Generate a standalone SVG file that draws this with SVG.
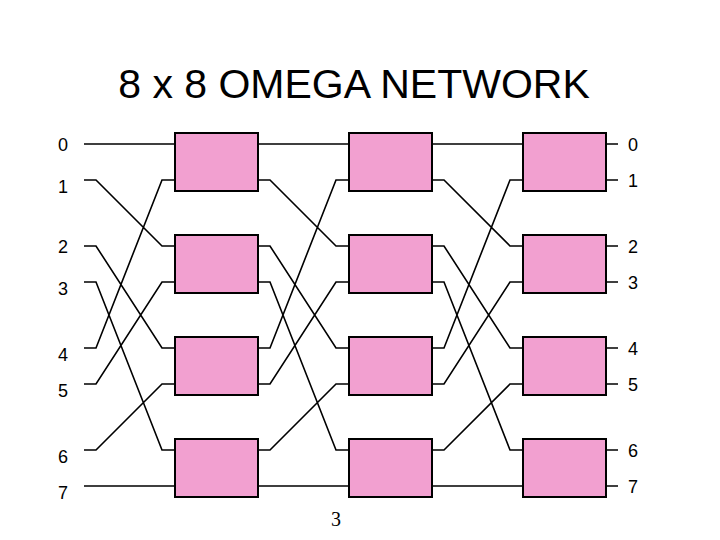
<svg xmlns="http://www.w3.org/2000/svg" width="720" height="540" viewBox="0 0 720 540">
<style>
.box{fill:#f2a0d0;stroke:#000;stroke-width:2}
.w{fill:none;stroke:#000;stroke-width:1.6}
.t{font-family:"Liberation Sans",Arial,sans-serif;font-size:18px}
</style>
<rect width="720" height="540" fill="#fff"/>
<text x="354" y="98" text-anchor="middle" font-family="Liberation Sans,Arial,sans-serif" font-size="41">8 x 8 OMEGA NETWORK</text>
<g id="connectors" class="w">
<path d="M84 144H175M84 180H96L162 246H175M84 246H96L162 348H175M84 282H96L162 450H175M84 348H96L162 180H175M84 384H96L162 282H175M84 450H96L162 384H175M84 486H175"/>
<path d="M258 144H349M258 180H270L336 246H349M258 246H270L336 348H349M258 282H270L336 450H349M258 348H270L336 180H349M258 384H270L336 282H349M258 450H270L336 384H349M258 486H349"/>
<path d="M432 144H523M432 180H444L510 246H523M432 246H444L510 348H523M432 282H444L510 450H523M432 348H444L510 180H523M432 384H444L510 282H523M432 450H444L510 384H523M432 486H523"/>
<path d="M606 144H618M606 180H618M606 246H618M606 282H618M606 348H618M606 384H618M606 450H618M606 486H618"/>
</g>
<g id="s1a"><rect class="box" x="175" y="133" width="83" height="58"/></g>
<g id="s1b"><rect class="box" x="175" y="235" width="83" height="58"/></g>
<g id="s1c"><rect class="box" x="175" y="337" width="83" height="58"/></g>
<g id="s1d"><rect class="box" x="175" y="439" width="83" height="58"/></g>
<g id="s2a"><rect class="box" x="349" y="133" width="83" height="58"/></g>
<g id="s2b"><rect class="box" x="349" y="235" width="83" height="58"/></g>
<g id="s2c"><rect class="box" x="349" y="337" width="83" height="58"/></g>
<g id="s2d"><rect class="box" x="349" y="439" width="83" height="58"/></g>
<g id="s3a"><rect class="box" x="523" y="133" width="83" height="58"/></g>
<g id="s3b"><rect class="box" x="523" y="235" width="83" height="58"/></g>
<g id="s3c"><rect class="box" x="523" y="337" width="83" height="58"/></g>
<g id="s3d"><rect class="box" x="523" y="439" width="83" height="58"/></g>
<g id="inlabels" class="t">
<text x="58" y="151">0</text><text x="58" y="193">1</text><text x="58" y="253">2</text><text x="58" y="295">3</text>
<text x="58" y="361">4</text><text x="58" y="397">5</text><text x="58" y="463">6</text><text x="58" y="499">7</text>
</g>
<g id="outlabels" class="t">
<text x="628" y="151">0</text><text x="628" y="187">1</text><text x="628" y="253">2</text><text x="628" y="289">3</text>
<text x="628" y="355">4</text><text x="628" y="391">5</text><text x="628" y="457">6</text><text x="628" y="493">7</text>
</g>
<text x="336" y="526" text-anchor="middle" font-family="Liberation Serif,serif" font-size="20">3</text>
</svg>
